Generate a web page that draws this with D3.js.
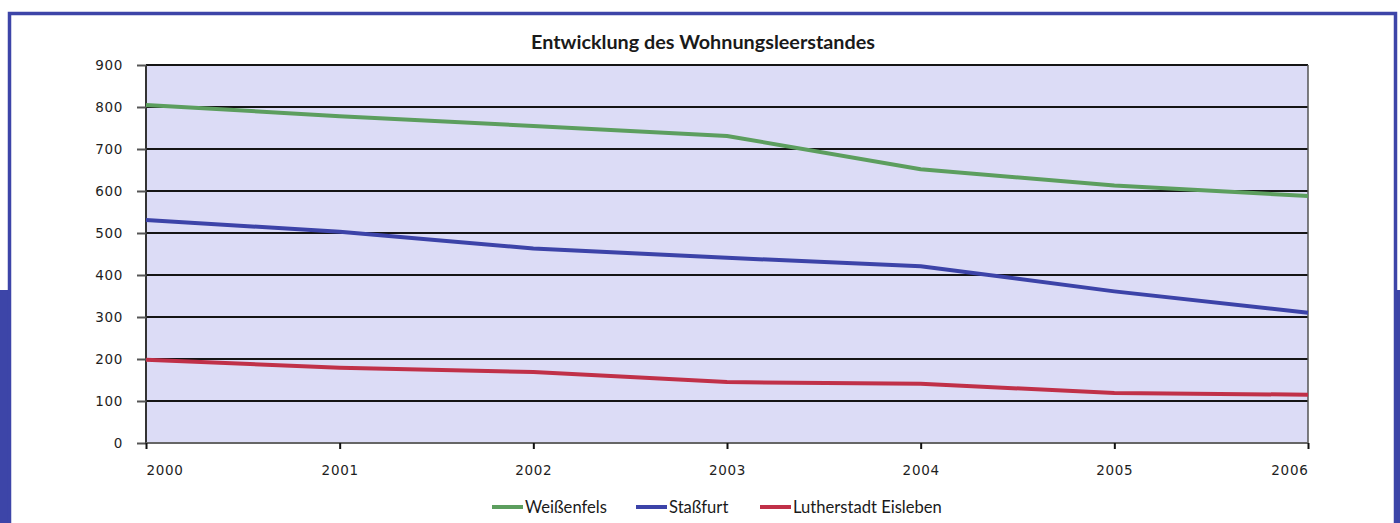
<!DOCTYPE html>
<html><head><meta charset="utf-8">
<script src="https://cdn.jsdelivr.net/npm/d3@7"></script>
<style>body{margin:0;background:#fff}svg{display:block}</style>
</head><body>
<svg id="c" width="1400" height="523"></svg>
<script>
const years = ["2000","2001","2002","2003","2004","2005","2006"];
const weissenfels = [805, 778, 755, 731, 652, 613, 588];
const stassfurt = [531, 503, 463, 441, 421, 361, 310];
const eisleben = [198, 179, 169, 145, 141, 119, 115];
const seriesNames = ["Weißenfels", "Staßfurt", "Lutherstadt Eisleben"];
const seriesColors = ["#5c9e5e", "#3c43a8", "#c03048"];
const yTicks = [0,100,200,300,400,500,600,700,800,900];
const title = "Entwicklung des Wohnungsleerstandes";

const svg = d3.select("#c");
const blue = "#3d45a8";
// frame
svg.append("rect").attr("x",0).attr("y",290).attr("width",11).attr("height",233).attr("fill",blue);
svg.append("rect").attr("x",1394).attr("y",290).attr("width",6).attr("height",233).attr("fill",blue);
svg.append("path").attr("d","M9.5,523 V13.5 H1395.5 V523").attr("fill","none").attr("stroke",blue).attr("stroke-width",3.5);

const x = d3.scalePoint().domain(years).range([146,1308]);
const y = d3.scaleLinear().domain([0,900]).range([443,65]);

svg.append("rect").attr("x",146).attr("y",65).attr("width",1162).attr("height",378).attr("fill","#dcdcf6");

// grid
svg.append("g").selectAll("line").data(yTicks.filter(d=>d>0)).join("line")
  .attr("x1",146).attr("x2",1308).attr("y1",d=>y(d)).attr("y2",d=>y(d))
  .attr("stroke","#151515").attr("stroke-width",2);
// right edge
svg.append("line").attr("x1",1308).attr("x2",1308).attr("y1",65).attr("y2",443).attr("stroke","#555").attr("stroke-width",1.5);

// y axis
const ya = svg.append("g").attr("transform","translate(146,0)")
  .call(d3.axisLeft(y).tickValues(yTicks).tickSize(9).tickPadding(14));
ya.select(".domain").attr("stroke","#333").attr("stroke-width",2).attr("d","M0,443V65");
ya.selectAll(".tick line").attr("stroke","#555").attr("stroke-width",2);
ya.selectAll("text").attr("font-family","DejaVu Sans, Verdana, sans-serif").attr("font-size",13.5).attr("fill","#1e1e1e").attr("letter-spacing","0.7px");

// x axis
const xa = svg.append("g").attr("transform","translate(0,443)")
  .call(d3.axisBottom(x).tickSize(6).tickPadding(16));
xa.select(".domain").attr("stroke","#666").attr("stroke-width",2).attr("d","M146,0H1308");
xa.selectAll(".tick line").attr("stroke","#111").attr("stroke-width",2);
xa.selectAll("text").attr("font-family","DejaVu Sans, Verdana, sans-serif").attr("font-size",13.5).attr("fill","#1e1e1e").attr("letter-spacing","0.7px")
  .attr("text-anchor",(d,i)=> i===0 ? "start" : (i===years.length-1 ? "end" : "middle"));

// lines
const line = d3.line().x((d,i)=>x(years[i])).y(d=>y(d));
[weissenfels, stassfurt, eisleben].forEach((s,k)=>{
  svg.append("path").datum(s).attr("d",line).attr("fill","none")
    .attr("stroke",seriesColors[k]).attr("stroke-width",4).attr("stroke-linejoin","round");
});

// title
svg.append("text").attr("x",703).attr("y",49).attr("text-anchor","middle")
  .attr("font-family","Lato, 'Open Sans', sans-serif").attr("font-weight","bold").attr("font-size",19.8).attr("fill","#1a1a1a").text(title);

// legend
const legX = [492, 636, 760];
const lg = svg.append("g");
seriesNames.forEach((n,k)=>{
  lg.append("line").attr("x1",legX[k]).attr("x2",legX[k]+31).attr("y1",507).attr("y2",507)
    .attr("stroke",seriesColors[k]).attr("stroke-width",4);
  lg.append("text").attr("x",legX[k]+33).attr("y",513).attr("font-family","Lato, 'Open Sans', sans-serif")
    .attr("font-size",16.6).attr("fill","#1a1a1a").text(n);
});
</script>
</body></html>
